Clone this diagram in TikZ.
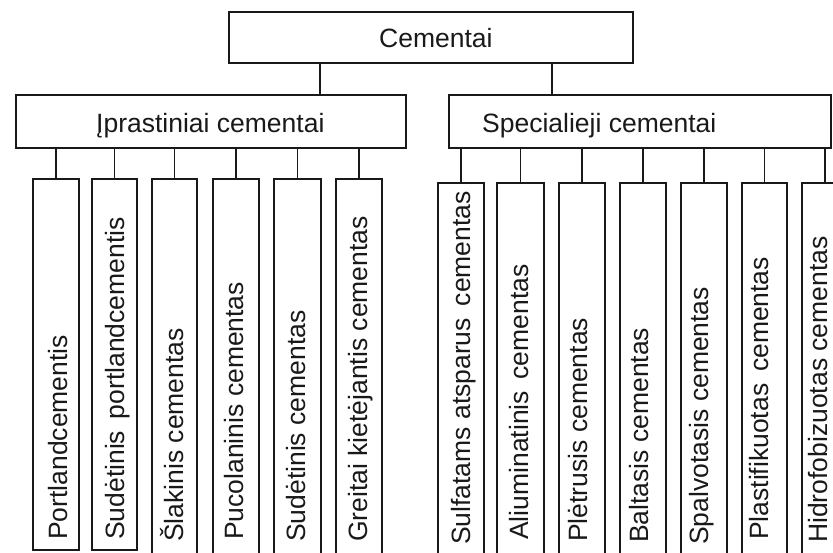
\documentclass[tikz,border=0pt]{standalone}
\usepackage{fontspec}
\setmainfont{Liberation Sans}
\begin{document}
\begin{tikzpicture}[x=1pt,y=-1pt,
  box/.style={draw=black!90, line width=1.8pt, rectangle, inner sep=0pt},
  conn/.style={draw=black!90, line width=1.8pt},
  lbl/.style={inner sep=0pt, font=\fontsize{26.5}{30}\selectfont, text=black!90},
  vlbl/.style={lbl, rotate=90, anchor=base west}]
\useasboundingbox (0,0) rectangle (833,552);
\fill[white] (0,0) rectangle (833,552);
\clip (0,0) rectangle (833,552);

% top
\node[box, minimum width=404pt, minimum height=51pt] (root) at (431,37.5) {};
\node[lbl, anchor=base west] (troot) at (379,47) {Cementai};

% middle
\node[box, minimum width=390pt, minimum height=53pt] (L) at (211,121.5) {};
\node[lbl, anchor=base west] (tL) at (96,132) {Įprastiniai cementai};
\node[box, minimum width=382pt, minimum height=53pt] (R) at (640,121.5) {};
\node[lbl, anchor=base west] (tR) at (482,132) {Specialieji cementai};

\coordinate (jL) at (320,0);
\coordinate (jR) at (552,0);
\draw[conn] (root.south -| jL) -- (L.north -| jL);
\draw[conn] (root.south -| jR) -- (R.north -| jR);

% left children
\node[box, minimum width=46pt, minimum height=371pt] (a1) at (56,364.5) {};
\node[box, minimum width=45pt, minimum height=371pt] (a2) at (114.5,364.5) {};
\node[box, minimum width=45pt, minimum height=390pt] (a3) at (174.5,374) {};
\node[box, minimum width=46pt, minimum height=390pt] (a4) at (236,374) {};
\node[box, minimum width=47pt, minimum height=390pt] (a5) at (297.5,374) {};
\node[box, minimum width=46pt, minimum height=390pt] (a6) at (359,374) {};
\draw[conn] (L.south -| a1.north) -- (a1.north);
\draw[conn] (L.south -| a2.north) -- (a2.north);
\draw[conn] (L.south -| a3.north) -- (a3.north);
\draw[conn] (L.south -| a4.north) -- (a4.north);
\draw[conn] (L.south -| a5.north) -- (a5.north);
\draw[conn] (L.south -| a6.north) -- (a6.north);

\node[vlbl] (ta1) at (67,540) {Portlandcementis};
\node[vlbl] (ta2) at (124,540) {Sudėtinis\, portlandcementis};
\node[vlbl] (ta3) at (183,542) {Šlakinis cementas};
\node[vlbl] (ta4) at (243,540) {Pucolaninis cementas};
\node[vlbl] (ta5) at (305,542) {Sudėtinis cementas};
\node[vlbl] (ta6) at (367,542) {Greitai kietėjantis cementas};

% right children
\node[box, minimum width=46pt, minimum height=390pt] (b1) at (461,378) {};
\node[box, minimum width=47pt, minimum height=390pt] (b2) at (520.5,378) {};
\node[box, minimum width=46pt, minimum height=390pt] (b3) at (582,378) {};
\node[box, minimum width=46pt, minimum height=390pt] (b4) at (643,378) {};
\node[box, minimum width=46pt, minimum height=390pt] (b5) at (704,378) {};
\node[box, minimum width=45pt, minimum height=390pt] (b6) at (764.5,378) {};
\node[box, minimum width=46pt, minimum height=390pt] (b7) at (825,378) {};
\draw[conn] (R.south -| b1.north) -- (b1.north);
\draw[conn] (R.south -| b2.north) -- (b2.north);
\draw[conn] (R.south -| b3.north) -- (b3.north);
\draw[conn] (R.south -| b4.north) -- (b4.north);
\draw[conn] (R.south -| b5.north) -- (b5.north);
\draw[conn] (R.south -| b6.north) -- (b6.north);
\draw[conn] (R.south -| b7.north) -- (b7.north);

\node[vlbl] (tb1) at (470,545) {Sulfatams atsparus\, cementas};
\node[vlbl] (tb2) at (528,540) {Aliuminatinis\, cementas};
\node[vlbl] (tb3) at (587,542) {Plėtrusis cementas};
\node[vlbl] (tb4) at (648,543) {Baltasis cementas};
\node[vlbl] (tb5) at (708,545) {Spalvotasis cementas};
\node[vlbl] (tb6) at (768,540) {Plastifikuotas\, cementas};
\node[vlbl] (tb7) at (827,543) {Hidrofobizuotas cementas};
\end{tikzpicture}
\end{document}
